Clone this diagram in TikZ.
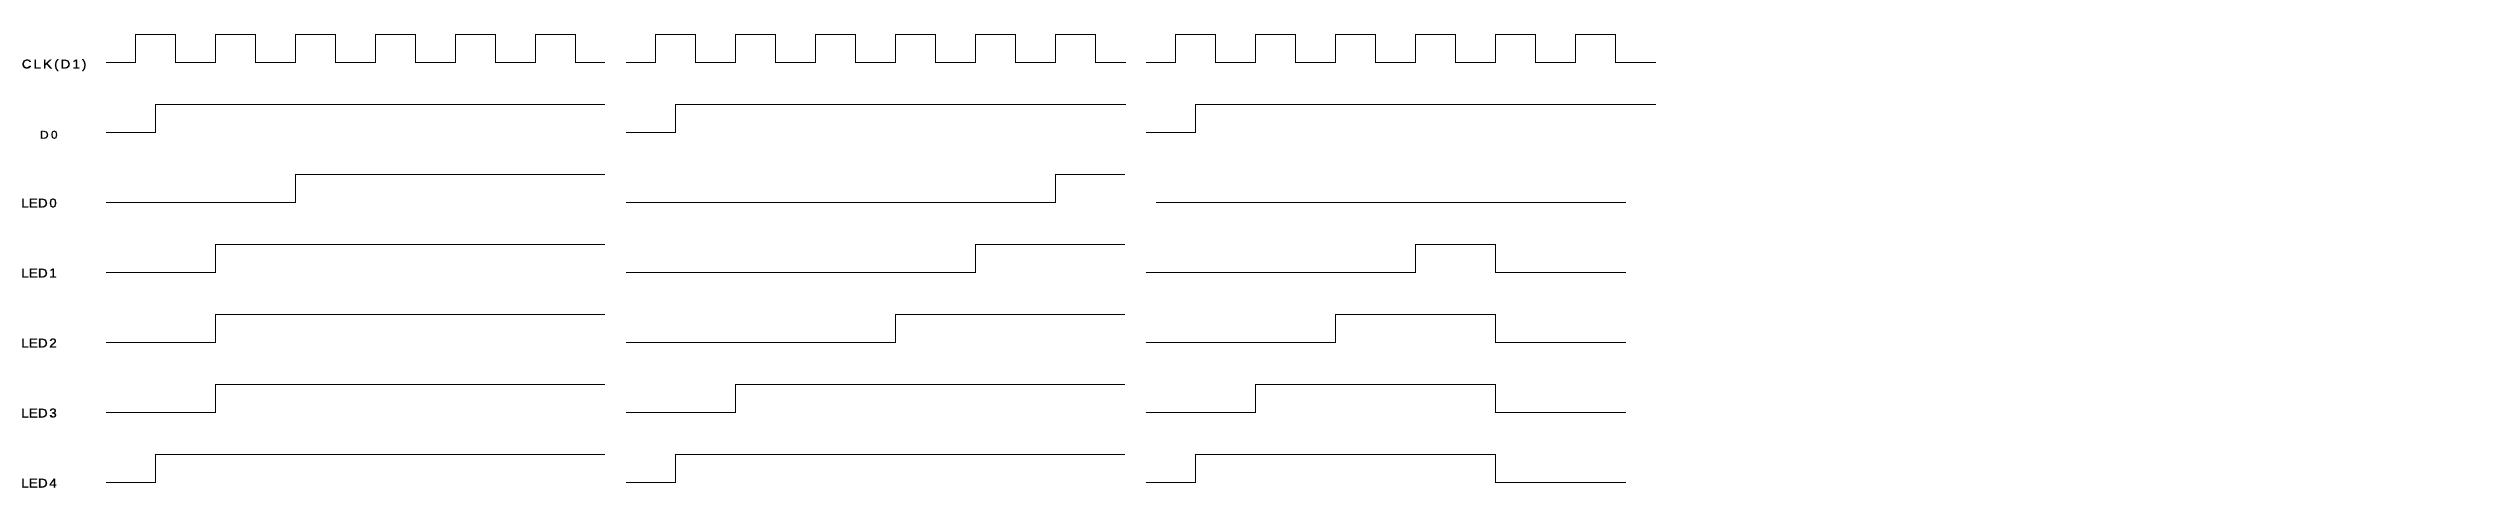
\documentclass[tikz,border=0pt]{standalone}
\usepackage{fontspec}
\setmainfont{Liberation Sans}
\newfontfamily\lblfont[FakeStretch=1.05,FakeBold=0.6]{Liberation Sans}
\newfontfamily\clkfont[FakeStretch=1.05,FakeBold=0.6,LetterSpace=15]{Liberation Sans}
\begin{document}
\begin{tikzpicture}[x=1pt,y=-1pt,
  sig/.style={line width=1.2pt,black,line join=miter},
  lbl/.style={anchor=base west,inner sep=0pt,font=\lblfont\fontsize{13}{13}\selectfont},
  clbl/.style={anchor=base west,inner sep=0pt,font=\clkfont\fontsize{13}{13}\selectfont},
  slbl/.style={anchor=base west,inner sep=0pt,font=\lblfont\fontsize{11.5}{11.5}\selectfont}]
\useasboundingbox (0,0) rectangle (2510,518);
\fill[white] (0,0) rectangle (2510,518);
% labels
\node[clbl] (lclk) at (21.5,68.5) {CLK(D1)};
\node[slbl] (ld0)  at (39.8,138.7) {D\kern2.2pt 0};
\node[lbl]  (led0) at (21,207.5) {LED\kern1.5pt 0};
\node[lbl]  (led1) at (21,277.5) {LED\kern1.5pt 1};
\node[lbl]  (led2) at (21,347.5) {LED\kern1.5pt 2};
\node[lbl]  (led3) at (21,417.5) {LED\kern1.5pt 3};
\node[lbl]  (led4) at (21,487.5) {LED\kern1.5pt 4};
% clocks and D0
\foreach \o/\e in {0/605,520/1125.7,1040/1655.5}{
  \draw[sig] (106+\o,62.5) foreach \k in {0,...,5}{ -| ({135.6+80*\k+\o},34.5) -| ({175.6+80*\k+\o},62.5) } -- (\e,62.5);
  \draw[sig] (106+\o,132.5) -| (155.8+\o,104.5) -- (\e,104.5);
}
% panel 1 and 2 LEDs (rise only)
\foreach \o/\a/\b/\c/\d/\f in {0/295.6/215.6/215.6/215.6/155.8, 520/535.6/455.6/375.6/215.6/155.8}{
  \draw[sig] (106+\o,202.5) -| (\a+\o,174.5) -- (605+\o,174.5);
  \draw[sig] (106+\o,272.5) -| (\b+\o,244.5) -- (605+\o,244.5);
  \draw[sig] (106+\o,342.5) -| (\c+\o,314.5) -- (605+\o,314.5);
  \draw[sig] (106+\o,412.5) -| (\d+\o,384.5) -- (605+\o,384.5);
  \draw[sig] (106+\o,482.5) -| (\f+\o,454.5) -- (605+\o,454.5);
}
% panel 3 LEDs
\draw[sig] (1155.5,202.5) -- (1625.8,202.5);
\draw[sig] (1145.6,272.5) -| (1415.4,244.5) -| (1495.4,272.5) -- (1625.8,272.5);
\draw[sig] (1145.6,342.5) -| (1335.4,314.5) -| (1495.4,342.5) -- (1625.8,342.5);
\draw[sig] (1145.6,412.5) -| (1255.4,384.5) -| (1495.4,412.5) -- (1625.8,412.5);
\draw[sig] (1145.6,482.5) -| (1195.6,454.5) -| (1495.4,482.5) -- (1625.8,482.5);
\end{tikzpicture}
\end{document}
